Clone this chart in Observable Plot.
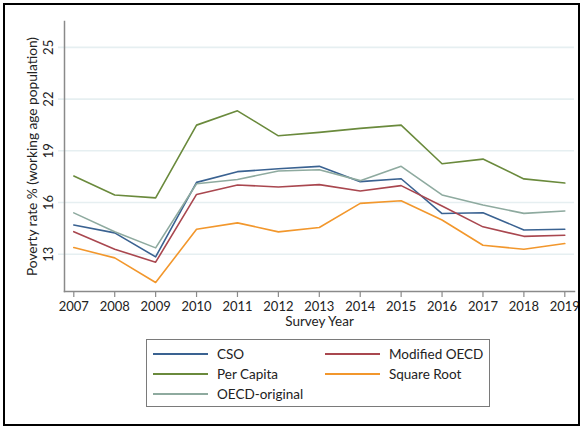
<!DOCTYPE html>
<html><head><meta charset="utf-8">
<script src="https://cdn.jsdelivr.net/npm/d3@7"></script>
<script src="https://cdn.jsdelivr.net/npm/@observablehq/plot@0.6"></script>
<style>
body{margin:0;background:#fff;font-family:Lato,"Open Sans",sans-serif;}
#wrap{position:relative;width:584px;height:429px;overflow:hidden;background:#fff}
#frame{position:absolute;left:3px;top:3px;width:573px;height:419px;border:2.5px solid #000;pointer-events:none}
#chart{position:absolute;left:0;top:0}
#legend{position:absolute;left:146px;top:339px;width:342px;height:66px;border:1.5px solid #7a7a7a;font-size:13.5px;color:#222}
.item{position:absolute;height:20px;display:flex;align-items:center}
.swatch{width:55px;height:0;border-top:2px solid;margin-right:9px}
</style>
</head><body>
<div id="wrap"><div id="chart"></div><div id="legend"></div><div id="frame"></div></div>
<script>
const years = [2007,2008,2009,2010,2011,2012,2013,2014,2015,2016,2017,2018,2019];
const cso          = [14.70,14.24,12.85,17.17,17.79,17.96,18.10,17.21,17.38,15.36,15.41,14.41,14.45];
const modifiedOecd = [14.31,13.29,12.54,16.47,17.02,16.90,17.04,16.67,16.98,15.80,14.59,14.04,14.10];
const perCapita    = [17.54,16.44,16.27,20.49,21.32,19.87,20.07,20.30,20.49,18.25,18.52,17.37,17.13];
const squareRoot   = [13.39,12.79,11.36,14.45,14.82,14.30,14.55,15.95,16.10,14.99,13.52,13.29,13.62];
const oecdOriginal = [15.40,14.31,13.37,17.09,17.34,17.83,17.90,17.27,18.10,16.44,15.86,15.37,15.51];
const seriesNames = ["CSO","Modified OECD","Per Capita","Square Root","OECD-original"];
const seriesValues = [cso, modifiedOecd, perCapita, squareRoot, oecdOriginal];
const seriesColors = ["#3a6291","#a9474f","#6a8a3c","#f2972c","#8eaa9f"];
const yTicks = [13,16,19,22,25];
const yLabel = "Poverty rate % (working age population)";
const xLabel = "Survey Year";

const data = seriesNames.flatMap((s, i) => years.map((y, j) => ({series: s, year: y, value: seriesValues[i][j]})));
const yMin = 10.84, yMax = 26.5;

const chart = Plot.plot({
  width: 584, height: 330,
  marginLeft: 64, marginRight: 10, marginTop: 21, marginBottom: 39,
  style: {fontFamily: "Lato, 'Open Sans', sans-serif", fontSize: "13px", color: "#222", background: "transparent"},
  x: {domain: [2007, 2019], insetLeft: 9.3, insetRight: 9.7, axis: null},
  y: {domain: [yMin, yMax], axis: null},
  color: {domain: seriesNames, range: seriesColors},
  marks: [
    Plot.ruleY(yTicks, {stroke: "#e6eff1", strokeWidth: 1.6, insetLeft: -6}),
    Plot.frame({anchor: "left", stroke: "#8a8a8a", strokeWidth: 1.5}),
    Plot.frame({anchor: "bottom", stroke: "#8a8a8a", strokeWidth: 1.5}),
    Plot.axisX(years, {tickSize: 6, tickPadding: 4, stroke: "#8a8a8a", strokeWidth: 1.2, tickFormat: d => String(d), label: null, fontSize: 13}),
    Plot.text(yTicks, {y: d => d, text: d => String(d), frameAnchor: "left", rotate: -90, dx: -16, textAnchor: "middle", fontSize: 13, fill: "#222"}),
    Plot.text([yLabel], {frameAnchor: "left", rotate: -90, dx: -32, textAnchor: "middle", fontSize: 13.7, fill: "#222"}),
    Plot.text([xLabel], {frameAnchor: "bottom", dy: 25, lineAnchor: "top", textAnchor: "middle", fontSize: 13.5, fill: "#222"}),
    Plot.line(data, {x: "year", y: "value", z: "series", stroke: "series", strokeWidth: 1.6})
  ]
});
document.getElementById("chart").appendChild(chart);

const legend = document.getElementById("legend");
const pos = [[6,4],[178,4],[6,24],[178,24],[6,44]];
seriesNames.forEach((s, i) => {
  const it = document.createElement("div");
  it.className = "item";
  it.style.left = pos[i][0] + "px";
  it.style.top = pos[i][1] + "px";
  const sw = document.createElement("div");
  sw.className = "swatch";
  sw.style.borderTopColor = seriesColors[i];
  const lb = document.createElement("span");
  lb.textContent = s;
  it.appendChild(sw); it.appendChild(lb);
  legend.appendChild(it);
});
</script>
</body></html>
